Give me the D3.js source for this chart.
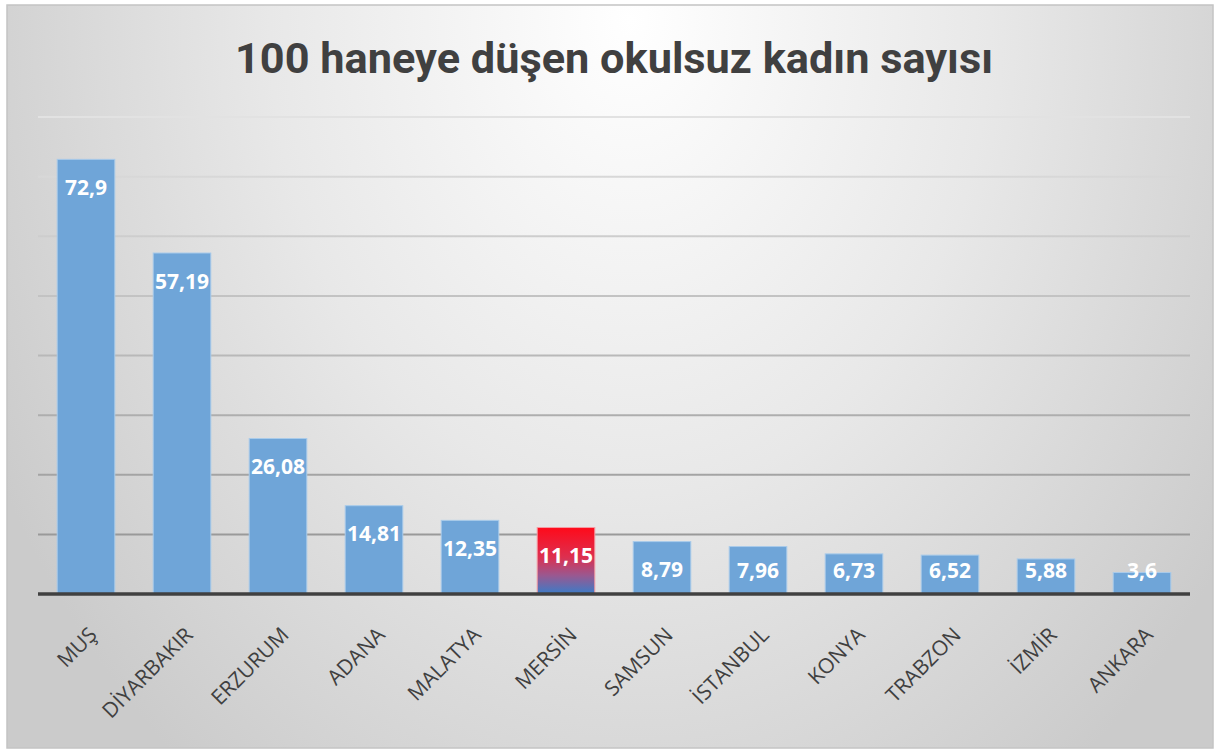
<!DOCTYPE html>
<meta charset="utf-8">
<script src="https://d3js.org/d3.v7.min.js"></script>
<style>
  body { margin: 0; background: #fff; }
</style>
<div id="chart"></div>
<script>
// data
var cities = ["MUŞ", "DİYARBAKIR", "ERZURUM", "ADANA", "MALATYA", "MERSİN",
              "SAMSUN", "İSTANBUL", "KONYA", "TRABZON", "İZMİR", "ANKARA"];
var values = [72.9, 57.19, 26.08, 14.81, 12.35, 11.15, 8.79, 7.96, 6.73, 6.52, 5.88, 3.6];
var gridTicks = [10, 20, 30, 40, 50, 60, 70, 80];
var highlight = "MERSİN";
var title = "100 haneye düşen okulsuz kadın sayısı";

var W = 1215, H = 751;
var plot = {left: 38, right: 1190, top: 117, bottom: 594};

var data = cities.map(function(c, i) { return {city: c, value: values[i]}; });

var svg = d3.select("#chart").append("svg")
    .attr("width", W)
    .attr("height", H);

var defs = svg.append("defs");

// soft grey background, light at the top centre
var bg = defs.append("radialGradient")
    .attr("id", "bg")
    .attr("gradientUnits", "userSpaceOnUse")
    .attr("cx", 0).attr("cy", 0).attr("r", 1)
    .attr("gradientTransform", "translate(630,20) scale(720,950)");
bg.append("stop").attr("offset", 0).attr("stop-color", "#ffffff");
bg.append("stop").attr("offset", 0.5).attr("stop-color", "#e8e8e8");
bg.append("stop").attr("offset", 1).attr("stop-color", "#cbcbcb");

var gridGrad = defs.append("linearGradient")
    .attr("id", "grid")
    .attr("gradientUnits", "userSpaceOnUse")
    .attr("x1", 0).attr("x2", 0)
    .attr("y1", plot.top).attr("y2", plot.bottom);
gridGrad.append("stop").attr("offset", 0).attr("stop-color", "#e2e2e2");
gridGrad.append("stop").attr("offset", 1).attr("stop-color", "#8f8f8f");

var hot = defs.append("linearGradient")
    .attr("id", "hot")
    .attr("x1", 0).attr("x2", 0).attr("y1", 0).attr("y2", 1);
hot.append("stop").attr("offset", 0).attr("stop-color", "#ff0a1a");
hot.append("stop").attr("offset", 0.45).attr("stop-color", "#dc3050");
hot.append("stop").attr("offset", 0.72).attr("stop-color", "#9a5890");
hot.append("stop").attr("offset", 1).attr("stop-color", "#3a7cc8");

svg.append("rect")
    .attr("x", 7).attr("y", 5)
    .attr("width", 1206).attr("height", 743)
    .attr("fill", "url(#bg)")
    .attr("stroke", "#c4c4c4")
    .attr("stroke-width", 1.5);

svg.append("text")
    .attr("x", 614)
    .attr("y", 73)
    .attr("text-anchor", "middle")
    .attr("textLength", 758)
    .attr("lengthAdjust", "spacingAndGlyphs")
    .style("font-family", "Roboto, 'Open Sans', sans-serif")
    .style("font-weight", "bold")
    .style("font-size", "43px")
    .style("fill", "#404040")
    .text(title);

var x = d3.scaleBand()
    .domain(cities)
    .range([plot.left, plot.right])
    .paddingInner(0.4)
    .paddingOuter(0.2);

var y = d3.scaleLinear()
    .domain([0, 80])
    .range([plot.bottom, plot.top]);

svg.selectAll(".grid")
    .data(gridTicks)
    .enter()
    .append("line")
      .attr("class", "grid")
      .attr("x1", plot.left)
      .attr("x2", plot.right)
      .attr("y1", function(d) { return y(d); })
      .attr("y2", function(d) { return y(d); })
      .attr("stroke", "url(#grid)")
      .attr("stroke-width", 2);

svg.selectAll(".bar")
    .data(data)
    .enter()
    .append("rect")
      .attr("class", "bar")
      .attr("x", function(d) { return x(d.city); })
      .attr("y", function(d) { return y(d.value); })
      .attr("width", x.bandwidth())
      .attr("height", function(d) { return y(0) - y(d.value); })
      .attr("fill", function(d) { return d.city == highlight ? "url(#hot)" : "#6fa5d8"; })
      .attr("stroke", function(d) { return d.city == highlight ? "#f59aa2" : "#a9cbea"; })
      .attr("stroke-width", 1);

// baseline
svg.append("line")
    .attr("x1", plot.left)
    .attr("x2", plot.right)
    .attr("y1", y(0))
    .attr("y2", y(0))
    .attr("stroke", "#404040")
    .attr("stroke-width", 3.5);

// value labels, inside the top of the bar
svg.selectAll(".val")
    .data(data)
    .enter()
    .append("text")
      .attr("class", "val")
      .attr("x", function(d) { return x(d.city) + x.bandwidth() / 2; })
      .attr("y", function(d) { return Math.min(y(d.value) + 28, y(0) - 24); })
      .attr("dy", "0.36em")
      .attr("text-anchor", "middle")
      .style("font-family", "'Open Sans', sans-serif")
      .style("font-weight", "bold")
      .style("font-size", "21px")
      .style("fill", "#ffffff")
      .text(function(d) { return String(d.value).replace(".", ","); });

// category labels, rotated
svg.selectAll(".cat")
    .data(cities)
    .enter()
    .append("text")
      .attr("class", "cat")
      .attr("transform", function(d) {
        return "translate(" + (x(d) + x.bandwidth() / 2 + 7) + "," + 631 + ")rotate(-45)";
      })
      .attr("dy", "0.35em")
      .attr("text-anchor", "end")
      .style("font-family", "'Open Sans', sans-serif")
      .style("font-size", "21px")
      .style("fill", "#404040")
      .text(function(d) { return d; });
</script>
